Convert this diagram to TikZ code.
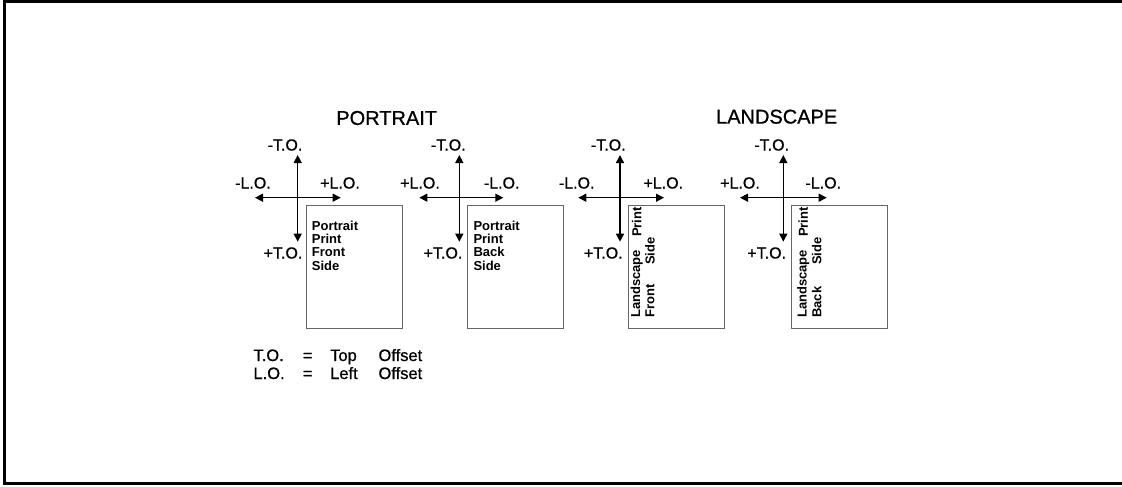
\documentclass[tikz,border=0pt]{standalone}
\usepackage{fontspec}
\setmainfont{Liberation Sans}
\newfontfamily\heavyfont[FakeBold=0.8]{Liberation Sans}
\usetikzlibrary{arrows.meta}
\begin{document}
\begin{tikzpicture}[x=1pt,y=-1pt,
  lbl/.style={inner sep=0pt,font=\heavyfont\fontsize{16}{18}\selectfont},
  title/.style={inner sep=0pt,font=\heavyfont\fontsize{20}{22}\selectfont},
  paper/.style={draw=black!60,line width=1pt},
  ptxt/.style={inner sep=0pt,align=left,font=\fontsize{13}{13.3}\selectfont\bfseries},
  rtxt/.style={inner sep=0pt,rotate=90,anchor=west,font=\fontsize{13}{13.3}\selectfont\bfseries},
  axis/.style={line width=1.4pt,{Triangle[length=8pt,width=8pt]}-{Triangle[length=8pt,width=8pt]}},
  leg/.style={inner sep=0pt,anchor=base west,font=\heavyfont\fontsize{16.5}{18}\selectfont}]
\useasboundingbox (0,0) rectangle (1122,487);
\draw[line width=3pt] (1122,1.5) -- (4.5,1.5) -- (4.5,483.5) -- (1122,483.5);

\node[title] (tp) at (386.7,118) {PORTRAIT};
\node[title] (tl) at (776.7,116.7) {LANDSCAPE};

% boxes
\node[paper,minimum width=96pt,minimum height=123pt,anchor=north west,inner sep=0pt] (b1) at (305.7,205) {};
\node[paper,minimum width=96pt,minimum height=123pt,anchor=north west,inner sep=0pt] (b2) at (467.3,205) {};
\node[paper,minimum width=96pt,minimum height=123pt,anchor=north west,inner sep=0pt] (b3) at (628.3,205) {};
\node[paper,minimum width=96pt,minimum height=123pt,anchor=north west,inner sep=0pt] (b4) at (790.7,205) {};

% crosses
\coordinate (t1) at (297.7,155); \coordinate (d1) at (297.7,241.7);
\coordinate (l1) at (255,197.7); \coordinate (r1) at (340.7,197.7);
\coordinate (t2) at (459.3,155); \coordinate (d2) at (459.3,241.7);
\coordinate (l2) at (419.3,197.7); \coordinate (r2) at (503.3,197.7);
\coordinate (t3) at (620,155); \coordinate (d3) at (620,241.7);
\coordinate (l3) at (578.3,197.7); \coordinate (r3) at (664,197.7);
\coordinate (t4) at (783.3,155); \coordinate (d4) at (783.3,241.7);
\coordinate (l4) at (740,197.7); \coordinate (r4) at (826.7,197.7);
\foreach \i in {1,2,3,4}{
  \draw[axis] (t\i) -- (d\i);
  \draw[axis] (l\i) -- (r\i);
}

% labels cross 1
\node[lbl] (a1) at (285,145) {-T.O.};
\node[lbl] (a2) at (253,183) {-L.O.};
\node[lbl] (a3) at (340,183) {+L.O.};
\node[lbl] (a4) at (283,253) {+T.O.};
% cross 2
\node[lbl] (c1) at (448.3,145) {-T.O.};
\node[lbl] (c2) at (420,183) {+L.O.};
\node[lbl] (c3) at (501.7,183) {-L.O.};
\node[lbl] (c4) at (443,253) {+T.O.};
% cross 3
\node[lbl] (e1) at (608.3,145) {-T.O.};
\node[lbl] (e2) at (576.7,183) {-L.O.};
\node[lbl] (e3) at (663.3,183) {+L.O.};
\node[lbl] (e4) at (603.3,253) {+T.O.};
% cross 4
\node[lbl] (g1) at (771.7,145) {-T.O.};
\node[lbl] (g2) at (740,183) {+L.O.};
\node[lbl] (g3) at (823.3,183) {-L.O.};
\node[lbl] (g4) at (766.7,253) {+T.O.};

% box texts
\node[ptxt,anchor=north west] (p1) at (311.7,220.5) {Portrait\\Print\\Front\\Side};
\node[ptxt,anchor=north west] (p2) at (473.3,220.5) {Portrait\\Print\\Back\\Side};
\node[rtxt] (q1) at (636.7,318) {Landscape};
\node[rtxt] (q2) at (636.7,237) {Print};
\node[rtxt] (q3) at (650,318) {Front};
\node[rtxt] (q4) at (650,265) {Side};
\node[rtxt] (s1) at (803.3,318) {Landscape};
\node[rtxt] (s2) at (803.3,237) {Print};
\node[rtxt] (s3) at (816.7,318) {Back};
\node[rtxt] (s4) at (816.7,265) {Side};

% legend
\node[leg] (k1) at (253.3,361) {T.O.};
\node[leg] (k2) at (302.7,361) {=};
\node[leg] (k3) at (330,361) {Top};
\node[leg] (k4) at (378.3,361) {Offset};
\node[leg] (m1) at (253.3,379) {L.O.};
\node[leg] (m2) at (302.7,379) {=};
\node[leg] (m3) at (330,379) {Left};
\node[leg] (m4) at (378.3,379) {Offset};
\end{tikzpicture}
\end{document}
